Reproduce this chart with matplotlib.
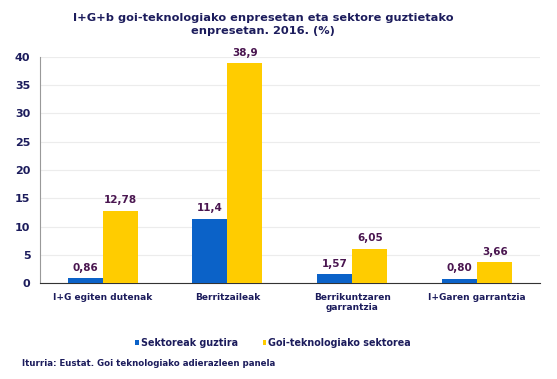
import numpy as np
import matplotlib.pyplot as plt

kategoriak = ["I+G egiten dutenak", "Berritzaileak", "Berrikuntzaren\ngarrantzia", "I+Garen garrantzia"]
sektoreak_guztira = [0.86, 11.4, 1.57, 0.80]
goi_teknologiako = [12.78, 38.9, 6.05, 3.66]
etiketak_guztira = ["0,86", "11,4", "1,57", "0,80"]
etiketak_goi = ["12,78", "38,9", "6,05", "3,66"]
y_ticks = [0, 5, 10, 15, 20, 25, 30, 35, 40]

testu_kolorea = "#1c1c5c"
etiketa_kolorea = "#4a1650"
urdina = "#0b62c8"
horia = "#ffcc00"

plt.rcParams['font.family'] = ['DejaVu Sans']
plt.rcParams['font.weight'] = 'bold'

fig = plt.figure(figsize=(5.57, 3.79), dpi=100)
ax = fig.add_axes([0.072, 0.253, 0.897, 0.597])

x = np.arange(len(kategoriak))
w = 0.28
b1 = ax.bar(x - w / 2, sektoreak_guztira, w, color=urdina, label="Sektoreak guztira", zorder=3)
b2 = ax.bar(x + w / 2, goi_teknologiako, w, color=horia, label="Goi-teknologiako sektorea", zorder=3)

for rect, txt in zip(b1, etiketak_guztira):
    ax.annotate(txt, (rect.get_x() + rect.get_width() / 2, rect.get_height()),
                xytext=(0, 4), textcoords="offset points", ha="center", va="bottom",
                fontsize=7.5, fontweight="bold", color=etiketa_kolorea)
for rect, txt in zip(b2, etiketak_goi):
    ax.annotate(txt, (rect.get_x() + rect.get_width() / 2, rect.get_height()),
                xytext=(0, 4), textcoords="offset points", ha="center", va="bottom",
                fontsize=7.5, fontweight="bold", color=etiketa_kolorea)

ax.set_xlim(-0.5, 3.5)
ax.set_ylim(0, 40)
ax.set_yticks(y_ticks)
ax.set_xticks(x)
ax.set_xticklabels(kategoriak, fontsize=6.5, fontweight="bold", color=testu_kolorea)
for lbl in ax.get_yticklabels():
    lbl.set_fontsize(8)
    lbl.set_fontweight("bold")
    lbl.set_color(testu_kolorea)
ax.tick_params(axis="x", length=0, pad=7)
ax.tick_params(axis="y", length=0, pad=7)
ax.yaxis.grid(True, color="#ececec", linewidth=0.8, zorder=0)
ax.spines["top"].set_visible(False)
ax.spines["right"].set_visible(False)
ax.spines["left"].set_color("#999999")
ax.spines["bottom"].set_color("#333333")

fig.text(0.472, 0.935, "I+G+b goi-teknologiako enpresetan eta sektore guztietako\nenpresetan. 2016. (%)",
         ha="center", va="center", fontsize=8.2, fontweight="bold", color=testu_kolorea, linespacing=1.4)

fig.legend(handles=[b1, b2], loc="center", bbox_to_anchor=(0.49, 0.095), ncol=2, frameon=False,
           handlelength=0.4, handleheight=0.5, handletextpad=0.2, columnspacing=2.6,
           prop={"size": 6.9, "weight": "bold"}, labelcolor=testu_kolorea)

fig.text(0.04, 0.042, "Iturria: Eustat. Goi teknologiako adierazleen panela",
         ha="left", va="center", fontsize=6.2, fontweight="bold", color=testu_kolorea)

fig.savefig("out.png", dpi=100)
